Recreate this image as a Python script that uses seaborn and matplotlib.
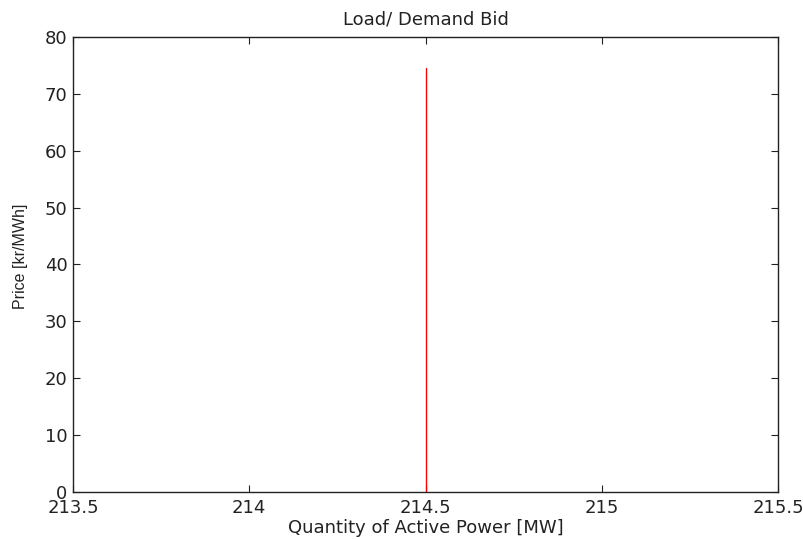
import matplotlib
matplotlib.use("Agg")
import matplotlib.pyplot as plt
import seaborn as sns

quantity = [214.5, 214.5]
price = [0, 74.5]
xticks = [213.5, 214, 214.5, 215, 215.5]
xtick_labels = ["213.5", "214", "214.5", "215", "215.5"]
yticks = [0, 10, 20, 30, 40, 50, 60, 70, 80]

sns.set_style("ticks")
plt.rcParams["font.family"] = ["DejaVu Sans"]

fig = plt.figure(figsize=(8.04, 5.39), dpi=100)
ax = fig.add_axes([0.0908, 0.0872, 0.8769, 0.8442])

sns.lineplot(x=quantity, y=price, estimator=None, sort=False, color="red", linewidth=1.0, ax=ax)

ax.set_xlim(213.5, 215.5)
ax.set_ylim(0, 80)
ax.set_xticks(xticks)
ax.set_xticklabels(xtick_labels)
ax.set_yticks(yticks)
ax.tick_params(direction="in", top=True, right=True, length=5, width=0.8,
               labelsize=13, colors="#222222")
ax.tick_params(axis="x", pad=5)
ax.tick_params(axis="y", pad=4)
for s in ax.spines.values():
    s.set_linewidth(1.0)
    s.set_color("#222222")

ax.set_title("Load/ Demand Bid", fontsize=13, pad=9, color="#222222")
ax.set_xlabel("Quantity of Active Power [MW]", fontsize=13, color="#222222")
ax.xaxis.set_label_coords(0.5, -0.06)
ax.set_ylabel("Price [kr/MWh]", fontsize=11.5, color="#222222",
              family=["Liberation Sans"])
ax.yaxis.set_label_coords(-0.064, 0.518)

fig.savefig("out.png", dpi=100)
